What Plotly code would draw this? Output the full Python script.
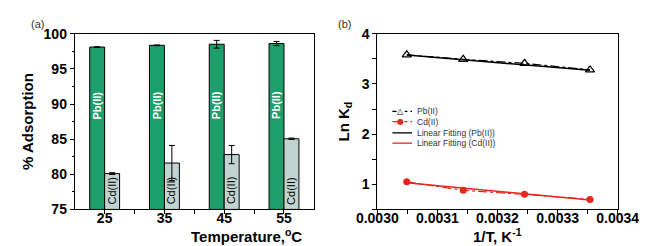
import plotly.graph_objects as go

# Panel (a) data
temps = ["25", "35", "45", "55"]
pb_ads = [98.1, 98.35, 98.5, 98.6]
pb_err = [0.05, 0.05, 0.55, 0.3]
cd_ads = [80.1, 81.6, 82.8, 85.05]
cd_err = [0.12, 2.5, 1.3, 0.1]

# Panel (b) data
inv_T = [0.003049, 0.003143, 0.003245, 0.003354]
pb_lnkd = [3.58, 3.49, 3.41, 3.28]
cd_lnkd = [1.05, 0.88, 0.80, 0.70]
fit_x = [0.003049, 0.003354]
pb_fit = [3.575, 3.27]
cd_fit = [1.03, 0.69]

legend_names = ["Pb(II)", "Cd(II)", "Linear Fitting (Pb(II))", "Linear Fitting (Cd(II))"]

GREEN = "#1c9f6b"
GREY = "#c2d4d2"
RED = "#e8271f"
FONT = "Liberation Sans"
W, H = 653, 246

xpos = list(range(len(temps)))

fig = go.Figure()
fig.add_trace(go.Bar(
    x=xpos, y=[v - 75 for v in pb_ads], base=75, name="Pb(II)",
    marker=dict(color=GREEN, line=dict(color="black", width=1)),
    error_y=dict(type="data", array=pb_err, color="black", thickness=1, width=3),
    xaxis="x", yaxis="y", showlegend=False, offsetgroup="pb",
))
fig.add_trace(go.Bar(
    x=xpos, y=[v - 75 for v in cd_ads], base=75, name="Cd(II)",
    marker=dict(color=GREY, line=dict(color="black", width=1)),
    error_y=dict(type="data", array=cd_err, color="black", thickness=1, width=3),
    xaxis="x", yaxis="y", showlegend=False, offsetgroup="cd",
))

# Panel (b)
fig.add_trace(go.Scatter(
    x=inv_T, y=pb_lnkd, name=legend_names[0], mode="lines+markers",
    line=dict(color="black", width=1.2, dash="dashdot"),
    marker=dict(symbol="triangle-up-open", size=8, color="black", line=dict(width=1.2)),
    xaxis="x2", yaxis="y2", showlegend=False,
))
fig.add_trace(go.Scatter(
    x=inv_T, y=cd_lnkd, name=legend_names[1], mode="lines+markers",
    line=dict(color=RED, width=1.2, dash="dashdot"),
    marker=dict(symbol="circle", size=7, color=RED),
    xaxis="x2", yaxis="y2", showlegend=False,
))
fig.add_trace(go.Scatter(
    x=fit_x, y=pb_fit, name=legend_names[2], mode="lines",
    line=dict(color="black", width=1.5), xaxis="x2", yaxis="y2", showlegend=False,
))
fig.add_trace(go.Scatter(
    x=fit_x, y=cd_fit, name=legend_names[3], mode="lines",
    line=dict(color=RED, width=1.5), xaxis="x2", yaxis="y2", showlegend=False,
))

tickfont = dict(family=FONT, size=14, color="black", weight="bold")
titlefont = dict(family=FONT, size=15, color="black", weight="bold")

common = dict(showline=True, linecolor="black", linewidth=1, mirror=True,
              ticks="outside", ticklen=4, tickcolor="black", tickwidth=1,
              showgrid=False, zeroline=False, tickfont=tickfont)

fig.update_layout(
    width=W, height=H,
    margin=dict(l=0, r=0, t=0, b=0),
    paper_bgcolor="white", plot_bgcolor="white",
    barmode="group", bargap=0.5, bargroupgap=0,
    showlegend=False,
    xaxis=dict(domain=[0.075, 0.467], range=[-0.5, 3.5],
               tickvals=xpos, ticktext=temps, ticklabelstandoff=-8,
               minor=dict(tickvals=[0.5, 1.5, 2.5], ticks="outside", ticklen=4, tickcolor="black"),
               anchor="y", **common),
    yaxis=dict(domain=[0.159, 0.923], range=[75, 100], dtick=5,
               minor=dict(dtick=2.5, ticks="outside", ticklen=2, tickcolor="black"),
               title=dict(text="% Adsorption", font=titlefont, standoff=6),
               anchor="x", **common),
    xaxis2=dict(domain=[0.571, 0.965], range=[0.0030, 0.0034], dtick=0.0001,
                tickformat=".4f", ticklabelstandoff=-8,
                minor=dict(dtick=0.00005, ticks="outside", ticklen=4, tickcolor="black"),
                anchor="y2", **common),
    yaxis2=dict(domain=[0.159, 0.923], range=[0.5, 4], dtick=1,
                minor=dict(dtick=0.5, ticks="outside", ticklen=4, tickcolor="black"),
                title=dict(text="Ln K<sub>d</sub>", font=titlefont, standoff=8),
                anchor="x2", **common),
)

# x-axis titles
fig.add_annotation(x=171 / W, y=1 - 235 / H, xref="paper", yref="paper",
                   text="Temperature,<sup>o</sup>C", showarrow=False, yanchor="middle",
                   font=titlefont)
fig.add_annotation(x=0.5, y=1 - 235 / H, xref="x2 domain", yref="paper",
                   text="1/T, K<sup>-1</sup>", showarrow=False, yanchor="middle",
                   font=titlefont)

# in-bar labels
for i in xpos:
    fig.add_annotation(x=i - 0.125, y=89.8, xref="x", yref="y", text="Pb(II)",
                       textangle=-90, showarrow=False,
                       font=dict(family=FONT, size=11, color="white", weight="bold"))
    fig.add_annotation(x=i + 0.125, y=77.7, xref="x", yref="y", text="Cd(II)",
                       textangle=-90, showarrow=False,
                       font=dict(family=FONT, size=11, color="black"))

# compact legend (keys) for panel (b)
rows = [102, 113, 125, 136]
leg_colors = ["black", RED, "black", RED]
x0, x1, xt = 389, 410, 413
for k, name in enumerate(legend_names):
    yy = 1 - rows[k] / H
    fig.add_shape(type="line", xref="paper", yref="paper",
                  x0=x0 / W, x1=x1 / W, y0=yy, y1=yy,
                  line=dict(color=leg_colors[k], width=1.3, dash="dashdot" if k < 2 else "solid"))
    fig.add_annotation(x=xt / W, y=yy, xref="paper", yref="paper", text=name,
                       showarrow=False, xanchor="left", yanchor="middle",
                       font=dict(family=FONT, size=8.5, color="#333"))
# legend key markers
cx = 398 / W
fig.add_annotation(x=cx, y=1 - rows[0] / H, xref="paper", yref="paper", text="△",
                   showarrow=False, font=dict(family="DejaVu Sans", size=8, color="black"),
                   bgcolor="white", borderpad=0)
fig.add_annotation(x=cx, y=1 - rows[1] / H, xref="paper", yref="paper", text="●",
                   showarrow=False, font=dict(family="DejaVu Sans", size=8, color=RED),
                   borderpad=0)

fig.add_annotation(x=0, y=1, xref="paper", yref="paper", xanchor="left", yanchor="top",
                   text="(a)", showarrow=False, font=dict(family=FONT, size=11, color="#333"))
fig.add_annotation(x=0.503, y=1, xref="paper", yref="paper", xanchor="left", yanchor="top",
                   text="(b)", showarrow=False, font=dict(family=FONT, size=11, color="#333"))

fig.write_html("out.html")
